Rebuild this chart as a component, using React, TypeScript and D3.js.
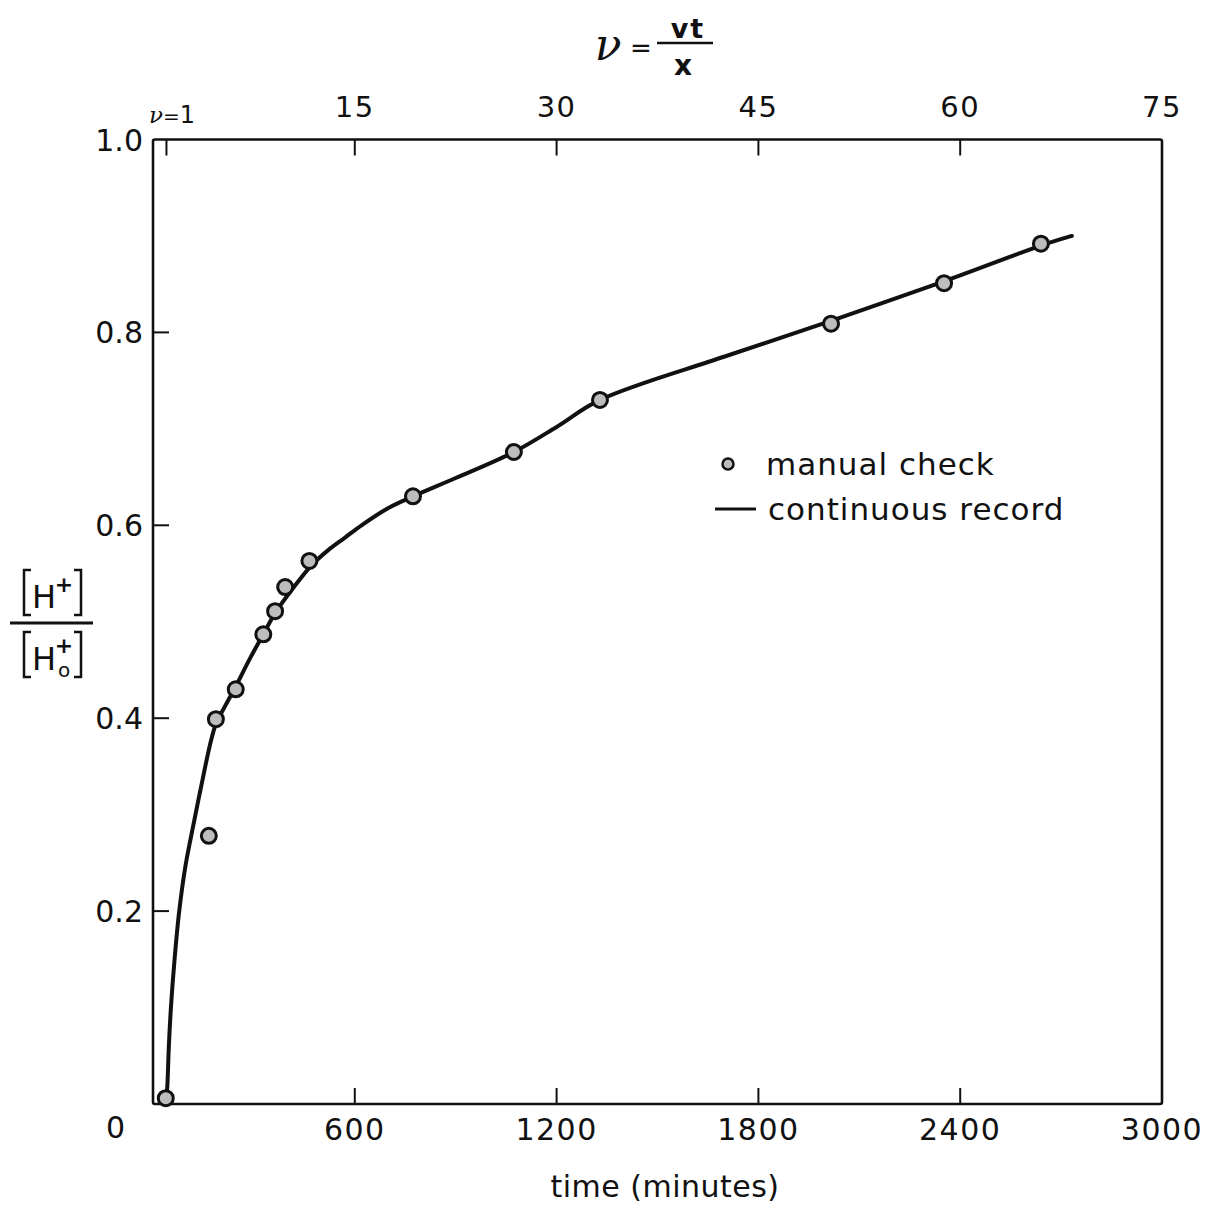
import React from "react";
import * as d3 from "d3";

// ---- data ----
const curveTime = [38, 42.5, 47, 53.5, 63.9, 77.3, 96.6, 122.8, 153, 172, 187, 215, 246, 290, 328, 363, 419, 470, 520, 570, 620, 700, 773, 900, 1073, 1200, 1329, 1700, 2016, 2352, 2640, 2732];
const curveRatio = [0.0, 0.018, 0.059, 0.101, 0.149, 0.198, 0.247, 0.294, 0.346, 0.376, 0.394, 0.413, 0.433, 0.463, 0.487, 0.509, 0.536, 0.558, 0.574, 0.587, 0.6, 0.618, 0.63, 0.649, 0.676, 0.702, 0.73, 0.775, 0.812, 0.853, 0.89, 0.9];

const manualTime = [38, 166, 187, 246, 328, 363, 393, 465, 773, 1073, 1329, 2016, 2352, 2640];
const manualRatio = [0.006, 0.278, 0.399, 0.43, 0.487, 0.511, 0.536, 0.563, 0.63, 0.676, 0.73, 0.809, 0.851, 0.892];

const bottomTicks = [600, 1200, 1800, 2400];
const bottomLabels = ["600", "1200", "1800", "2400", "3000"];
const bottomLabelValues = [600, 1200, 1800, 2400, 3000];
const topTicks = [1, 15, 30, 45, 60];
const topLabelValues = [15, 30, 45, 60, 75];
const leftTicks = [0.2, 0.4, 0.6, 0.8];
const leftLabelValues = [1.0, 0.8, 0.6, 0.4, 0.2];

const FONT = "DejaVu Sans, sans-serif";

export default function App() {
  const x = d3.scaleLinear().domain([0, 3000]).range([153, 1162]);
  const xNu = d3.scaleLinear().domain([0, 75]).range([153, 1162]);
  const y = d3.scaleLinear().domain([0, 1]).range([1104, 139.5]);

  const pts = curveTime.map((t, i) => [t, curveRatio[i]] as [number, number]);
  const line = d3
    .line<[number, number]>()
    .x((d) => x(d[0]))
    .y((d) => y(d[1]))
    .curve(d3.curveCatmullRom.alpha(0.5));

  const tickLen = 16;
  const x0 = x(0), x1 = x(3000), y0 = y(0), y1 = y(1);

  return (
    <svg
      width={1208}
      height={1207}
      style={{ position: "absolute", left: 0, top: 0, background: "#fff" }}
      fontFamily={FONT}
    >
      <rect x={0} y={0} width={1208} height={1207} fill="#fff" />
      {/* title */}
      <text x={608} y={60} fontSize={44} fontStyle="italic" fontFamily="DejaVu Serif, serif" textAnchor="middle" fill="#111">ν</text>
      <text x={641} y={57} fontSize={26} textAnchor="middle" fill="#111">=</text>
      <line x1={657} x2={713} y1={43} y2={43} stroke="#111" strokeWidth={2.5} />
      <text x={688} y={38} fontSize={27} fontWeight="bold" textAnchor="middle" fill="#111" letterSpacing={2}>vt</text>
      <text x={683} y={75} fontSize={28} fontWeight="bold" textAnchor="middle" fill="#111">x</text>

      {/* frame */}
      <rect x={x0} y={y1} width={x1 - x0} height={y0 - y1} fill="none" stroke="#111" strokeWidth={2.6} rx={2} />

      {/* bottom ticks */}
      {bottomTicks.map((t) => (
        <line key={"b" + t} x1={x(t)} x2={x(t)} y1={y0} y2={y0 - tickLen} stroke="#111" strokeWidth={2} />
      ))}
      {bottomLabelValues.map((t, i) => (
        <text key={"bl" + t} x={x(t)} y={1140} fontSize={30} textAnchor="middle" fill="#111" letterSpacing={1.5}>
          {bottomLabels[i]}
        </text>
      ))}
      <text x={115.5} y={1138} fontSize={30} textAnchor="middle" fill="#111">0</text>

      {/* top ticks */}
      {topTicks.map((v) => (
        <line key={"t" + v} x1={xNu(v)} x2={xNu(v)} y1={y1} y2={y1 + tickLen} stroke="#111" strokeWidth={2} />
      ))}
      {topLabelValues.map((v) => (
        <text key={"tl" + v} x={xNu(v)} y={117} fontSize={29} textAnchor="middle" fill="#111" letterSpacing={1.5}>
          {String(v)}
        </text>
      ))}
      <text x={172} y={123} fontSize={20} textAnchor="middle" fill="#111">
        <tspan fontStyle="italic" fontFamily="DejaVu Serif, serif" fontSize={23}>ν</tspan>
        <tspan>=</tspan>
        <tspan fontSize={24}>1</tspan>
      </text>

      {/* left ticks */}
      {leftTicks.map((v) => (
        <line key={"l" + v} x1={x0} x2={x0 + tickLen} y1={y(v)} y2={y(v)} stroke="#111" strokeWidth={2} />
      ))}
      {leftLabelValues.map((v) => (
        <text key={"ll" + v} x={143} y={y(v) + 11} fontSize={30} textAnchor="end" fill="#111">
          {v.toFixed(1)}
        </text>
      ))}

      {/* y axis label: [H+]/[H0+] */}
      <g stroke="#111" strokeWidth={2.5} fill="none">
        <path d="M31,570 L24,570 L24,615 L31,615" />
        <path d="M74,570 L81,570 L81,615 L74,615" />
        <path d="M31,632 L24,632 L24,677 L31,677" />
        <path d="M74,632 L81,632 L81,677 L74,677" />
        <line x1={10} x2={93} y1={623} y2={623} strokeWidth={3} />
      </g>
      <text x={44} y={608} fontSize={32} textAnchor="middle" fill="#111">H</text>
      <text x={64} y={592} fontSize={22} fontWeight="bold" textAnchor="middle" fill="#111">+</text>
      <text x={44} y={670} fontSize={32} textAnchor="middle" fill="#111">H</text>
      <text x={64} y={653} fontSize={22} fontWeight="bold" textAnchor="middle" fill="#111">+</text>
      <text x={64} y={677} fontSize={20} textAnchor="middle" fill="#111">o</text>

      {/* curve */}
      <path d={line(pts) || ""} fill="none" stroke="#111" strokeWidth={4} strokeLinecap="round" />

      {/* manual points */}
      {manualTime.map((t, i) => (
        <circle key={"p" + i} cx={x(t)} cy={y(manualRatio[i])} r={7.5} fill="#bdbdbd" stroke="#111" strokeWidth={3} />
      ))}

      {/* legend */}
      <circle cx={728} cy={464} r={5.5} fill="#bdbdbd" stroke="#111" strokeWidth={2.5} />
      <text x={766} y={475} fontSize={31} fill="#111" letterSpacing={1}>manual check</text>
      <line x1={715} x2={756} y1={509} y2={509} stroke="#111" strokeWidth={3} />
      <text x={768} y={520} fontSize={31} fill="#111" letterSpacing={1}>continuous record</text>

      {/* axis title */}
      <text x={665} y={1197} fontSize={30} textAnchor="middle" fill="#111" letterSpacing={0.5}>time (minutes)</text>
    </svg>
  );
}
